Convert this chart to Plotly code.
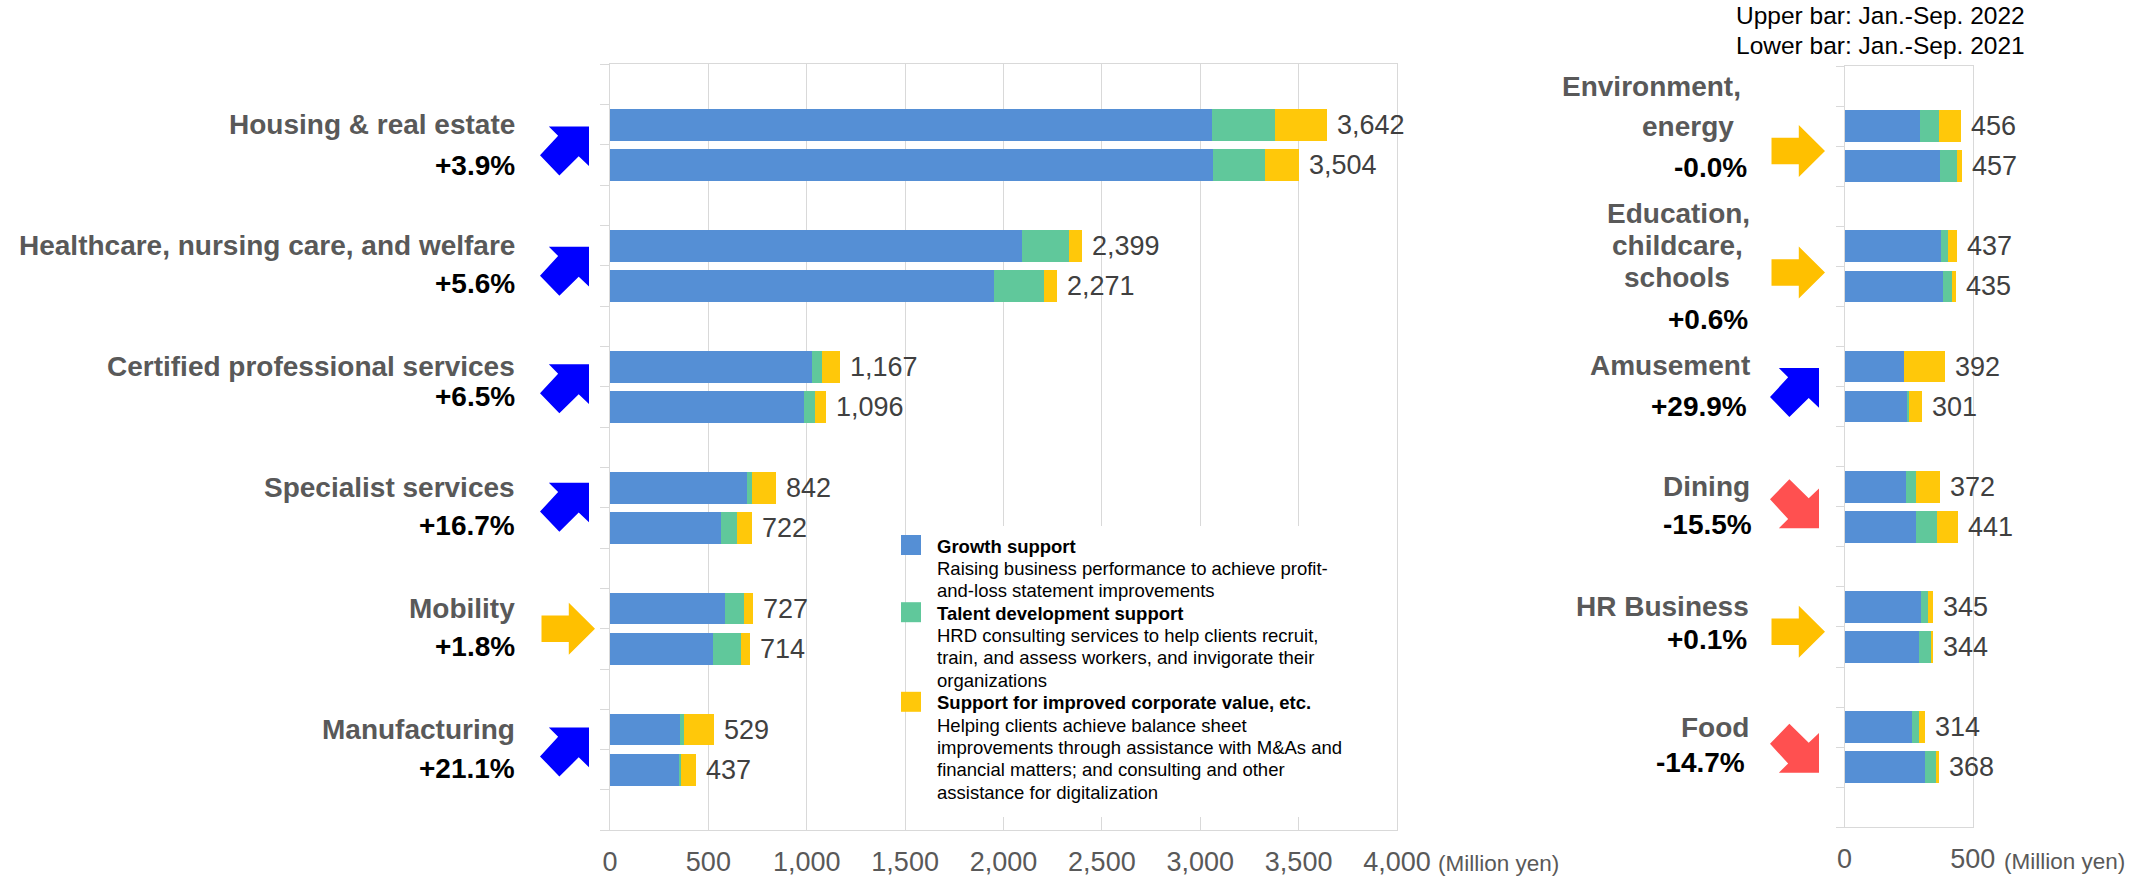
import plotly.graph_objects as go

# ---------------- data ----------------
left_categories = ["Housing & real estate", "Healthcare, nursing care, and welfare",
                   "Certified professional services", "Specialist services",
                   "Mobility", "Manufacturing"]
left_change = ["+3.9%", "+5.6%", "+6.5%", "+16.7%", "+1.8%", "+21.1%"]
left_growth_2022 = [3061, 2094, 1025, 695, 584, 354]
left_talent_2022 = [319, 237, 52, 29, 95, 23]
left_corp_2022 = [262, 68, 90, 118, 48, 152]
left_growth_2021 = [3066, 1953, 986, 565, 526, 354]
left_talent_2021 = [265, 254, 58, 78, 140, 5]
left_corp_2021 = [173, 64, 52, 79, 48, 78]

right_categories = [["Environment,", "energy"], ["Education,", "childcare,", "schools"],
                    ["Amusement"], ["Dining"], ["HR Business"], ["Food"]]
right_change = ["-0.0%", "+0.6%", "+29.9%", "-15.5%", "+0.1%", "-14.7%"]
right_growth_2022 = [293, 376, 233, 238, 298, 265]
right_talent_2022 = [75, 26, 0, 39, 28, 27]
right_corp_2022 = [88, 35, 159, 95, 19, 22]
right_growth_2021 = [371, 384, 244, 277, 290, 313]
right_talent_2021 = [67, 35, 6, 85, 47, 44]
right_corp_2021 = [19, 16, 51, 79, 7, 11]

left_tickvals = [0, 500, 1000, 1500, 2000, 2500, 3000, 3500, 4000]
left_ticktext = ["0", "500", "1,000", "1,500", "2,000", "2,500", "3,000", "3,500", "4,000"]
right_tickvals = [0, 500]
right_ticktext = ["0", "500"]

series_names = ["Growth support", "Talent development support",
                "Support for improved corporate value, etc."]
series_desc = [["Raising business performance to achieve profit-",
                "and-loss statement improvements"],
               ["HRD consulting services to help clients recruit,",
                "train, and assess workers, and invigorate their",
                "organizations"],
               ["Helping clients achieve balance sheet",
                "improvements through assistance with M&As and",
                "financial matters; and consulting and other",
                "assistance for digitalization"]]
header_lines = ["Upper bar: Jan.-Sep. 2022", "Lower bar: Jan.-Sep. 2021"]
unit_label = "(Million yen)"

# ---------------- style ----------------
W, H = 2152, 878
FONT = "Liberation Sans, Arial, sans-serif"
COLORS = ["#558FD5", "#60C89B", "#FFC80A"]
GRID = "#D9D9D9"
ARROW_COL = {"up": "#0000FF", "flat": "#FFC000", "down": "#FF5050"}
LBL_SIZE = 28


def px(x):
    return x / W


def py(y):
    return 1 - y / H


n = len(left_categories)
pos22 = [3 * i + 1 for i in range(n)]
pos21 = [3 * i + 2 for i in range(n)]

fig = go.Figure()

sides = [
    ("x", "y", [(left_growth_2022, left_growth_2021), (left_talent_2022, left_talent_2021),
                (left_corp_2022, left_corp_2021)]),
    ("x2", "y2", [(right_growth_2022, right_growth_2021), (right_talent_2022, right_talent_2021),
                  (right_corp_2022, right_corp_2021)]),
]
annotations = []
shapes = []

for xa, ya, series in sides:
    for (v22, v21), col, name in zip(series, COLORS, series_names):
        fig.add_trace(go.Bar(
            x=list(v22) + list(v21), y=pos22 + pos21, orientation="h", width=0.79,
            marker=dict(color=col, line=dict(width=0)), name=name,
            xaxis=xa, yaxis=ya, showlegend=False))
    tot22 = [sum(t) for t in zip(*[s[0] for s in series])]
    tot21 = [sum(t) for t in zip(*[s[1] for s in series])]
    for tots, pos in ((tot22, pos22), (tot21, pos21)):
        for t, p in zip(tots, pos):
            annotations.append(dict(
                x=t, y=p, xref=xa, yref=ya, text=f"{t:,}", showarrow=False,
                xanchor="left", yanchor="middle", xshift=8,
                font=dict(size=27, color="#404040", family=FONT)))

# ---- left category labels ----
LBL_X = 517
pct_nudge_left = [0, 3, 10, 2, 2, 1]
for i, (cat, ch) in enumerate(zip(left_categories, left_change)):
    annotations.append(dict(x=px(LBL_X), y=pos22[i], xref="paper", yref="y", text=f"<b>{cat}</b>",
                            showarrow=False, xanchor="right", yanchor="middle",
                            font=dict(size=LBL_SIZE, color="#595959", family=FONT)))
    annotations.append(dict(x=px(LBL_X), y=pos21[i], xref="paper", yref="y", text=f"<b>{ch}</b>",
                            showarrow=False, xanchor="right", yanchor="middle",
                            yshift=pct_nudge_left[i],
                            font=dict(size=LBL_SIZE, color="#000000", family=FONT)))

# ---- right category labels (right edge px, yshift relative to upper bar) ----
right_line_layout = [
    [(1743, 40), (1736, 0)],
    [(1751.5, 33), (1745, 1), (1732, -31)],
    [(1751.5, 1)],
    [(1751.5, 0)],
    [(1750.5, 0)],
    [(1750.5, 0)],
]
right_pct_layout = [(1749, -1), (1750, -33), (1748.5, 0), (1754, 2), (1748.5, 7), (1747, 4.5)]
for i, lines in enumerate(right_categories):
    for txt, (xr, ys) in zip(lines, right_line_layout[i]):
        annotations.append(dict(x=px(xr), y=pos22[i], xref="paper", yref="y2", text=f"<b>{txt}</b>",
                                showarrow=False, xanchor="right", yanchor="middle", yshift=ys,
                                font=dict(size=LBL_SIZE, color="#595959", family=FONT)))
    xr, ys = right_pct_layout[i]
    annotations.append(dict(x=px(xr), y=pos21[i], xref="paper", yref="y2", text=f"<b>{right_change[i]}</b>",
                            showarrow=False, xanchor="right", yanchor="middle", yshift=ys,
                            font=dict(size=LBL_SIZE, color="#000000", family=FONT)))

# ---- arrows ----
UP = [(1, 0), (1, 0.81), (0.79, 0.61), (0.395, 1.0), (0, 0.59), (0.37, 0.19), (0.18, 0)]
DOWN = [(x, 1 - y) for x, y in UP]
RIGHT = [(0, 0.245), (0.51, 0.245), (0.51, 0), (1, 0.5), (0.51, 1), (0.51, 0.755), (0, 0.755)]


def arrow_kind(s):
    v = float(s.strip("%"))
    return "up" if v > 3 else ("down" if v < -3 else "flat")


def arrow_shape(kind, x0, yref, yanchor, dy):
    if kind == "flat":
        poly, w, h = RIGHT, 53.5, 52
        x0 = x0 + 1.5
    else:
        poly, w, h = (UP if kind == "up" else DOWN), 49, 49
    pts = [(nx * w, h / 2 - ny * h - dy) for nx, ny in poly]
    path = "M" + " L".join(f"{a:.2f},{b:.2f}" for a, b in pts) + " Z"
    return dict(type="path", path=path, xref="paper", xsizemode="pixel", xanchor=px(x0),
                yref=yref, ysizemode="pixel", yanchor=yanchor,
                fillcolor=ARROW_COL[kind], line=dict(width=0), layer="above")


left_dy = [6, 5.4, 2, -0.6, 0, 2.3]
right_dy = [4.8, 6.2, 6, -3, 4.9, 1.1]
for i in range(n):
    shapes.append(arrow_shape(arrow_kind(left_change[i]), 540, "y", 3 * i + 1.5, left_dy[i]))
    shapes.append(arrow_shape(arrow_kind(right_change[i]), 1770, "y2", 3 * i + 1.5, right_dy[i]))

# ---- legend (manual) ----
shapes.append(dict(type="rect", xref="paper", yref="paper", x0=px(907), x1=px(1365),
                   y0=py(817), y1=py(526), fillcolor="white", line=dict(width=0), layer="above"))
line_y = 546
LINE_H = 22.4
for name, desc, col in zip(series_names, series_desc, COLORS):
    shapes.append(dict(type="rect", xref="paper", yref="paper", x0=px(901), x1=px(921),
                       y0=py(line_y + 9), y1=py(line_y - 11), fillcolor=col, line=dict(width=0),
                       layer="above"))
    annotations.append(dict(x=px(935), y=py(line_y), xref="paper", yref="paper", text=f"<b>{name}</b>",
                            showarrow=False, xanchor="left", yanchor="middle",
                            font=dict(size=18.5, color="#000000", family=FONT)))
    line_y += LINE_H
    for d in desc:
        annotations.append(dict(x=px(935), y=py(line_y), xref="paper", yref="paper", text=d,
                                showarrow=False, xanchor="left", yanchor="middle",
                                font=dict(size=18.5, color="#000000", family=FONT)))
        line_y += LINE_H

# ---- header and units ----
for txt, yy in zip(header_lines, [16, 45]):
    annotations.append(dict(x=px(1734), y=py(yy), xref="paper", yref="paper", text=txt,
                            showarrow=False, xanchor="left", yanchor="middle",
                            font=dict(size=24.5, color="#000000", family=FONT)))
annotations.append(dict(x=px(1436), y=py(863), xref="paper", yref="paper", text=unit_label,
                        showarrow=False, xanchor="left", yanchor="middle",
                        font=dict(size=22.5, color="#595959", family=FONT)))
annotations.append(dict(x=px(2002), y=py(861), xref="paper", yref="paper", text=unit_label,
                        showarrow=False, xanchor="left", yanchor="middle",
                        font=dict(size=22.5, color="#595959", family=FONT)))

xcommon = dict(showgrid=True, gridcolor=GRID, gridwidth=1, showline=True, linecolor=GRID,
               linewidth=1, mirror=True, zeroline=False, ticks="", automargin=False,
               tickfont=dict(size=27, color="#595959", family=FONT), tickmode="array",
               ticklabelstandoff=7, fixedrange=True)
ycommon = dict(showgrid=False, showline=True, linecolor=GRID, linewidth=1, mirror=True,
               zeroline=False, ticks="outside", tickcolor=GRID, tickwidth=1,
               showticklabels=False, tickmode="array",
               tickvals=[k - 0.5 for k in range(3 * n + 2)], range=[3 * n + 0.5, -0.5],
               automargin=False, fixedrange=True)

fig.update_layout(
    width=W, height=H, template="none", barmode="stack", showlegend=False,
    margin=dict(l=0, r=0, t=0, b=0), paper_bgcolor="white", plot_bgcolor="white",
    font=dict(family=FONT),
    xaxis=dict(domain=[px(610), px(1397)], range=[0, 4000], anchor="y",
               tickvals=left_tickvals, ticktext=left_ticktext, **xcommon),
    yaxis=dict(domain=[py(830.3), py(64.3)], anchor="x", ticklen=9, **ycommon),
    xaxis2=dict(domain=[px(1844.5), px(1972.7)], range=[0, 500], anchor="y2",
                tickvals=right_tickvals, ticktext=right_ticktext, **xcommon),
    yaxis2=dict(domain=[py(827.3), py(66)], anchor="x2", ticklen=8, **ycommon),
    annotations=annotations, shapes=shapes,
)

fig.write_html("out.html", config={"displayModeBar": False},
               post_script="document.body.style.margin='0';document.body.style.overflow='hidden';")
